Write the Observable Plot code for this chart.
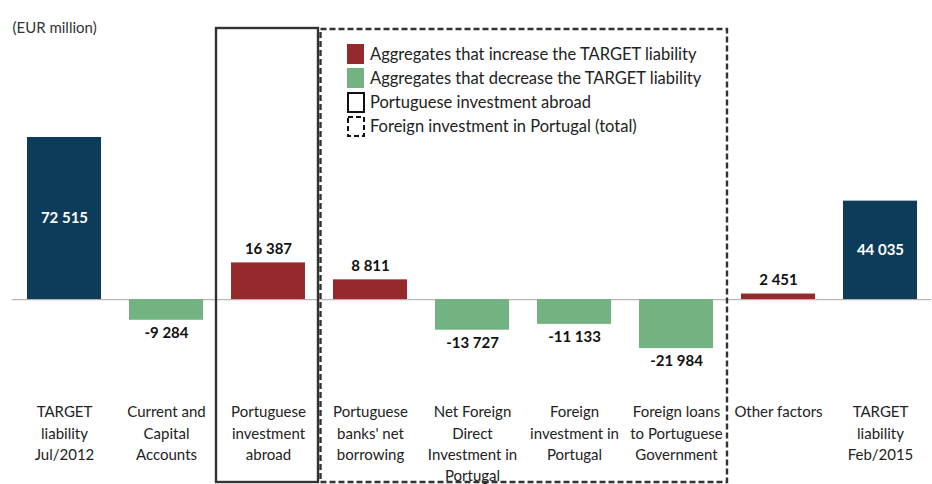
<!DOCTYPE html>
<html><head><meta charset="utf-8">
<script src="https://cdn.jsdelivr.net/npm/d3@7"></script>
<script src="https://cdn.jsdelivr.net/npm/@observablehq/plot@0.6"></script>
<style>body{margin:0;background:#fff} svg{display:block}</style>
</head><body><div id="chart"></div>
<script>
const categories = ["TARGET\nliability\nJul/2012","Current and\nCapital\nAccounts","Portuguese\ninvestment\nabroad","Portuguese\nbanks' net\nborrowing","Net Foreign\nDirect\nInvestment in\nPortugal","Foreign\ninvestment in\nPortugal","Foreign loans\nto Portuguese\nGovernment","Other factors","TARGET\nliability\nFeb/2015"];
const values = [72515,-9284,16387,8811,-13727,-11133,-21984,2451,44035];
const kinds = ["total","decrease","increase","increase","decrease","decrease","decrease","increase","total"];
const valueLabels = ["72 515","-9 284","16 387","8 811","-13 727","-11 133","-21 984","2 451","44 035"];
const legendLabels = ["Aggregates that increase the TARGET liability","Aggregates that decrease the TARGET liability","Portuguese investment abroad","Foreign investment in Portugal (total)"];
const legendKinds = ["increase","decrease","solid","dashed"];
const unitLabel = "(EUR million)";
const soloBox = [2];          // index range for solid box
const groupBox = [3, 6];      // index range for dashed box

const colors = {total:"#0c3c5a", increase:"#952a2e", decrease:"#72b381"};
const font = "Lato, 'Open Sans', sans-serif";

const data = categories.map((c,i)=>({cat:c, value:values[i], kind:kinds[i], label:valueLabels[i]}));
const yMax = 121300, yMin = -40000;

const chart = Plot.plot({
  width: 932, height: 484,
  marginLeft: 12, marginRight: 1, marginTop: 28, marginBottom: 95.6,
  style: {fontFamily: font, background: "#fff"},
  x: {domain: categories, axis: null, paddingInner: 0.275, paddingOuter: 0.1375},
  y: {domain: [yMin, yMax], axis: null},
  marks: [
    Plot.ruleY([0], {stroke: "#b8b8b8", strokeWidth: 1.2}),
    Plot.barY(data, {x: "cat", y: "value", fill: d => colors[d.kind]}),
    Plot.text(data.filter(d=>d.kind==="total"), {x:"cat", y: d=>d.value/2, text:"label", fill:"#fff", fontWeight:"bold", fontSize:15}),
    Plot.text(data.filter(d=>d.kind!=="total" && d.value>=0), {x:"cat", y:"value", text:"label", fill:"#111", fontWeight:"bold", fontSize:15, dy:-14}),
    Plot.text(data.filter(d=>d.kind!=="total" && d.value<0), {x:"cat", y:"value", text:"label", fill:"#111", fontWeight:"bold", fontSize:15, dy:13}),
    Plot.text(categories, {x: d=>d, text: d=>d, frameAnchor:"bottom", lineAnchor:"top", dy:13, lineHeight:1.43, fontSize:15, fill:"#222"}),
    Plot.text([unitLabel], {frameAnchor:"top-left", lineAnchor:"middle", text: d=>d, fontSize:15, fill:"#333"})
  ]
});
document.getElementById("chart").appendChild(chart);

// boxes & legend, positioned from the plot's own scales
const sx = chart.scale("x"), sy = chart.scale("y");
const gap = sx.step - sx.bandwidth;
const bandLeft = i => sx.apply(categories[i]) - gap/2;
const svg = d3.select(chart);
const boxTop = sy.apply(yMax);
const boxBottom = 482;
const g = svg.append("g").attr("fill","none").attr("stroke","#333").attr("stroke-width",2.4);
g.append("rect").attr("x", bandLeft(soloBox[0]) - 1).attr("y", boxTop)
  .attr("width", sx.step).attr("height", boxBottom-boxTop);
g.append("rect").attr("x", bandLeft(groupBox[0])+1.5).attr("y", boxTop+1)
  .attr("width", bandLeft(groupBox[1]) + sx.step - bandLeft(groupBox[0]) - 1.5).attr("height", boxBottom-boxTop-1)
  .attr("stroke-dasharray","6,3");

const lx = bandLeft(groupBox[0]) + 28, ly = 44, rowH = 24;
const lg = svg.append("g").attr("font-family", font).attr("font-size", 16.5).attr("text-anchor","start");
legendLabels.forEach((t,i)=>{
  const y = ly + i*rowH;
  if (colors[legendKinds[i]]) {
    lg.append("rect").attr("x", lx).attr("y", y).attr("width", 17).attr("height", 20).attr("fill", colors[legendKinds[i]]);
  } else {
    lg.append("rect").attr("x", lx+1).attr("y", y+1).attr("width", 16).attr("height", 19)
      .attr("fill","none").attr("stroke","#111").attr("stroke-width",2)
      .attr("stroke-dasharray", legendKinds[i]==="dashed" ? "5,3" : null);
  }
  lg.append("text").attr("x", lx+23).attr("y", y+10).attr("dy","0.35em").attr("fill","#222").text(t);
});
</script>
</body></html>
